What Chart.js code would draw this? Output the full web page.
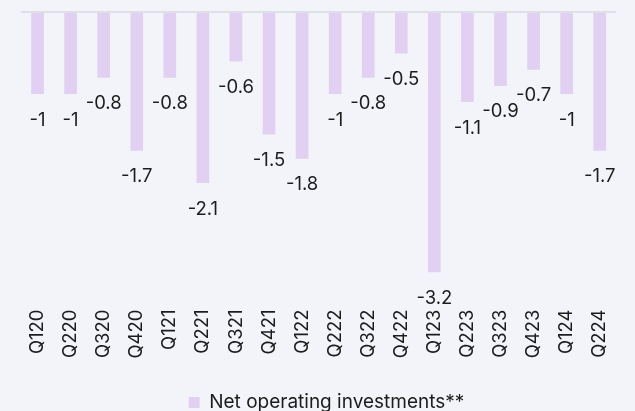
<!DOCTYPE html>
<html>
<head>
<meta charset="utf-8">
<script src="https://cdn.jsdelivr.net/npm/chart.js@4/dist/chart.umd.min.js"></script>
<style>
  html, body { margin: 0; padding: 0; background: #f3f4f9; overflow: hidden; }
  #wrap { position: relative; width: 635px; height: 422px; }
</style>
</head>
<body>
<div id="wrap"><canvas id="c"></canvas></div>
<script>
const categories = ["Q120","Q220","Q320","Q420","Q121","Q221","Q321","Q421","Q122","Q222","Q322","Q422","Q123","Q223","Q323","Q423","Q124","Q224"];
const netOperatingInvestments = [-1, -1, -0.8, -1.7, -0.8, -2.1, -0.6, -1.5, -1.8, -1, -0.8, -0.5, -3.2, -1.1, -0.9, -0.7, -1, -1.7];
const seriesName = "Net operating investments**";

const FONT = "Inter";
const TEXT = "#1c1c1c";

const topLineAndLabels = {
  id: 'topLineAndLabels',
  beforeDatasetsDraw(chart) {
    const {ctx, chartArea, scales} = chart;
    const y0 = scales.y.getPixelForValue(0);
    ctx.save();
    ctx.strokeStyle = "#dde0e6";
    ctx.lineWidth = 2;
    ctx.beginPath();
    ctx.moveTo(chartArea.left, y0 - 1);
    ctx.lineTo(chartArea.right, y0 - 1);
    ctx.stroke();
    ctx.restore();
  },
  afterDatasetsDraw(chart) {
    const {ctx} = chart;
    const meta = chart.getDatasetMeta(0);
    const data = chart.data.datasets[0].data;
    ctx.save();
    ctx.font = "18.5px " + FONT;
    ctx.fillStyle = TEXT;
    ctx.textAlign = "center";
    ctx.textBaseline = "middle";
    meta.data.forEach((bar, i) => {
      ctx.fillText(String(data[i]), bar.x, bar.y + 26);
    });
    ctx.restore();
  }
};

new Chart(document.getElementById('c'), {
  type: 'bar',
  data: {
    labels: categories,
    datasets: [{
      label: seriesName,
      data: netOperatingInvestments,
      backgroundColor: "#e2d0f2",
      borderWidth: 0,
      barPercentage: 0.48,
      categoryPercentage: 0.8
    }]
  },
  options: {
    responsive: true,
    maintainAspectRatio: false,
    animation: false,
    layout: { padding: { top: 13, left: 21, right: 3, bottom: 0 } },
    scales: {
      x: {
        grid: { display: false, drawTicks: false },
        border: { display: false },
        ticks: {
          minRotation: 90, maxRotation: 90,
          padding: 13,
          color: TEXT,
          font: { family: FONT, size: 18.5 }
        },
        afterFit(scale) { scale.height = 86.5; }
      },
      y: {
        display: false,
        min: -3.5,
        max: 0
      }
    },
    plugins: {
      legend: {
        position: 'bottom',
        labels: {
          boxWidth: 11,
          boxHeight: 11,
          padding: 10,
          color: TEXT,
          font: { family: FONT, size: 19 }
        }
      },
      tooltip: { enabled: false }
    }
  },
  plugins: [topLineAndLabels]
});
</script>
</body>
</html>
